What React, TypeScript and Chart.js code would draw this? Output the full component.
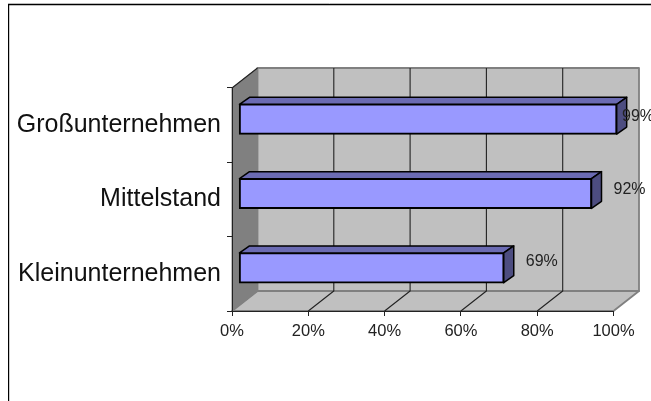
import React, { useEffect, useRef } from "react";
import { Chart, registerables } from "chart.js";

Chart.register(...registerables);

const categories = ["Großunternehmen", "Mittelstand", "Kleinunternehmen"];
const seriesValues = [99, 92.4, 69.4];
const valueLabels = ["99%", "92%", "69%"];

const FONT = "'Liberation Sans', Arial, sans-serif";
const DEPTH = { x: 25.5, y: -20 };
const BAR_SHIFT = { x: 7, y: -6 };
const BAR_DEPTH = { x: 10, y: -7 };

const poly = (ctx: CanvasRenderingContext2D, pts: number[][], fill: string | null, stroke: string | null, lw = 1) => {
  ctx.beginPath();
  pts.forEach((p, i) => (i ? ctx.lineTo(p[0], p[1]) : ctx.moveTo(p[0], p[1])));
  ctx.closePath();
  if (fill) {
    ctx.fillStyle = fill;
    ctx.fill();
  }
  if (stroke) {
    ctx.strokeStyle = stroke;
    ctx.lineWidth = lw;
    ctx.lineJoin = "round";
    ctx.stroke();
  }
};

const chart3d = {
  id: "chart3d",
  beforeDraw(chart: any) {
    const { ctx, chartArea: a, scales } = chart;
    const { left: l, right: r, top: t, bottom: b } = a;
    const dx = DEPTH.x;
    const dy = DEPTH.y;
    ctx.save();
    // outer frame
    ctx.fillStyle = "#fff";
    ctx.fillRect(0, 0, chart.width, chart.height);
    ctx.strokeStyle = "#bbb";
    ctx.lineWidth = 1;
    ctx.beginPath();
    ctx.moveTo(8, 3.5);
    ctx.lineTo(651, 3.5);
    ctx.stroke();
    ctx.strokeStyle = "#000";
    ctx.lineWidth = 1.2;
    ctx.beginPath();
    ctx.moveTo(8.6, 401);
    ctx.lineTo(8.6, 4.6);
    ctx.lineTo(651, 4.6);
    ctx.stroke();
    // walls
    poly(ctx, [[l + dx, t + dy], [r + dx, t + dy], [r + dx, b + dy], [l + dx, b + dy]], "#c0c0c0", "#808080", 1.8);
    poly(ctx, [[l, b], [r, b], [r + dx, b + dy], [l + dx, b + dy]], "#c0c0c0", "#808080", 1.8);
    poly(ctx, [[l, t], [l + dx, t + dy], [l + dx, b + dy], [l, b]], "#808080", "#808080", 1);
    // gridlines
    ctx.strokeStyle = "#222";
    ctx.lineWidth = 1.1;
    scales.x.ticks.forEach((tk: any) => {
      if (tk.value === 0 || tk.value === 100) return;
      const x = scales.x.getPixelForValue(tk.value);
      ctx.beginPath();
      ctx.moveTo(x, b);
      ctx.lineTo(x + dx, b + dy);
      ctx.lineTo(x + dx, t + dy);
      ctx.stroke();
    });
    // top-left edge
    ctx.strokeStyle = "#222";
    ctx.beginPath();
    ctx.moveTo(l, t);
    ctx.lineTo(l + dx, t + dy);
    ctx.stroke();
    ctx.restore();
  },
  beforeDatasetsDraw(chart: any) {
    chart.ctx.save();
    chart.ctx.translate(BAR_SHIFT.x, BAR_SHIFT.y);
  },
  afterDatasetsDraw(chart: any) {
    const { ctx, scales } = chart;
    const meta = chart.getDatasetMeta(0);
    const dx = BAR_DEPTH.x;
    const dy = BAR_DEPTH.y;
    meta.data.forEach((bar: any) => {
      const h = bar.height / 2;
      const x0 = bar.base;
      const x1 = bar.x;
      const t = bar.y - h;
      const b = bar.y + h;
      poly(ctx, [[x0, t], [x1, t], [x1 + dx, t + dy], [x0 + dx, t + dy]], "#6b6bb3", "#000", 1.5);
      poly(ctx, [[x1, t], [x1 + dx, t + dy], [x1 + dx, b + dy], [x1, b]], "#4d4d80", "#000", 1.5);
    });
    ctx.restore();
    ctx.save();
    ctx.fillStyle = "#222";
    ctx.font = `16px ${FONT}`;
    ctx.textBaseline = "middle";
    ctx.textAlign = "left";
    meta.data.forEach((bar: any, i: number) => {
      const x = Math.min(bar.x + BAR_SHIFT.x + 22, 622);
      const y = scales.y.getPixelForValue(i) - 8.5 - 1.75 * i;
      ctx.fillText(valueLabels[i], x, y);
    });
    ctx.restore();
  },
};

export default function App() {
  const ref = useRef<HTMLCanvasElement>(null);
  useEffect(() => {
    const chart = new Chart(ref.current as HTMLCanvasElement, {
      type: "bar",
      plugins: [chart3d],
      data: {
        labels: categories,
        datasets: [
          {
            data: seriesValues,
            backgroundColor: "#9999ff",
            borderColor: "#000",
            borderWidth: 2,
            borderSkipped: false,
            inflateAmount: 0.7,
            barPercentage: 0.4,
            categoryPercentage: 1,
            clip: false as any,
          },
        ],
      },
      options: {
        indexAxis: "y",
        animation: false,
        responsive: false,
        devicePixelRatio: 1,
        layout: { padding: { top: 88, right: 37.5, left: 0, bottom: 0 } },
        plugins: { legend: { display: false }, tooltip: { enabled: false } },
        scales: {
          x: {
            min: 0,
            max: 100,
            afterFit: (s: any) => {
              s.height = 90;
            },
            grid: { drawOnChartArea: false, drawTicks: true, tickLength: 5, color: "#222", lineWidth: 1 },
            border: { display: true, color: "#222", width: 1 },
            ticks: {
              stepSize: 20,
              maxRotation: 0,
              padding: 6,
              color: "#222",
              font: { family: FONT, size: 16.5 },
              callback: (v: any) => `${v}%`,
            },
          },
          y: {
            afterFit: (s: any) => {
              s.width = 232;
            },
            grid: { drawOnChartArea: false, drawTicks: true, tickLength: 5, color: "#222", lineWidth: 1, offset: true },
            border: { display: true, color: "#222", width: 1 },
            ticks: {
              autoSkip: false,
              padding: 6,
              color: "#111",
              font: { family: FONT, size: 25 },
            },
          },
        },
      },
    } as any);
    return () => chart.destroy();
  }, []);
  return (
    <canvas
      ref={ref}
      width={651}
      height={401}
      style={{ position: "fixed", left: 0, top: 0, width: 651, height: 401, display: "block" }}
    />
  );
}
